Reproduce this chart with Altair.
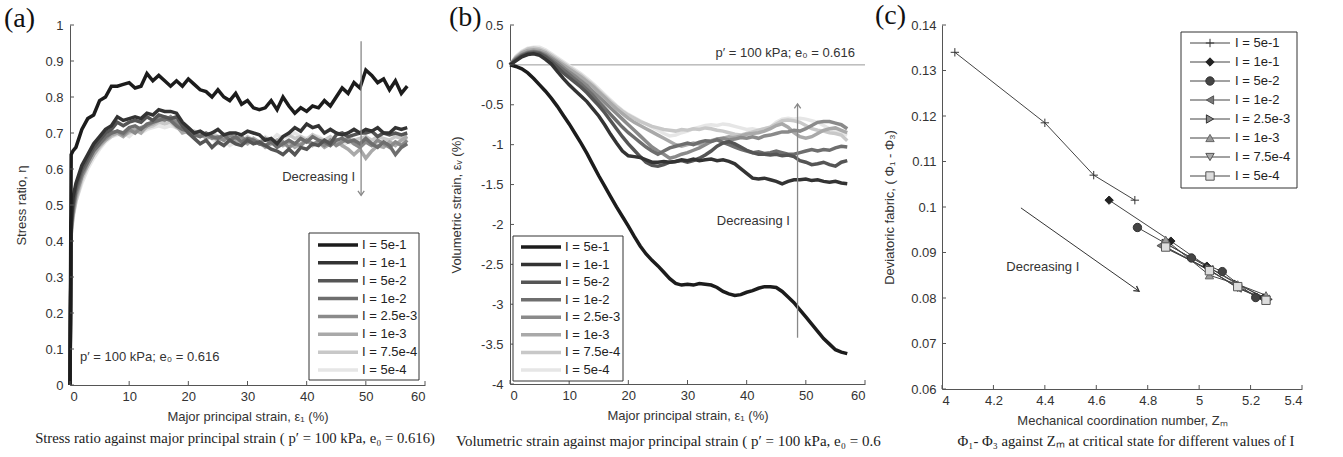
import altair as alt
import pandas as pd

SANS = "Liberation Sans"
SERIF = "Liberation Serif"

# ---------------- shared series ----------------
SERIES = ["5e-1", "1e-1", "5e-2", "1e-2", "2.5e-3", "1e-3", "7.5e-4", "5e-4"]
LEGEND_LABELS = ["I = " + s for s in SERIES]
GRAYS = ["#1c1c1c", "#333333", "#555555", "#6e6e6e", "#8a8a8a", "#a9a9a9", "#c8c8c8", "#e6e6e6"]

# tick values
TICKS_STRAIN = [0, 10, 20, 30, 40, 50, 60]
TICKS_ETA = [0, 0.1, 0.2, 0.3, 0.4, 0.5, 0.6, 0.7, 0.8, 0.9, 1]
TICKS_EV = [-4, -3.5, -3, -2.5, -2, -1.5, -1, -0.5, 0, 0.5]
TICKS_ZM = [4, 4.2, 4.4, 4.6, 4.8, 5, 5.2, 5.4]
TICKS_FAB = [0.06, 0.07, 0.08, 0.09, 0.1, 0.11, 0.12, 0.13, 0.14]

# ---------------- panel (a): stress ratio ----------------
STRAIN_A = [0, 0.2, 0.5] + list(range(1, 58))
ETA_5E1 = [0.0, 0.64, 0.65, 0.66, 0.71, 0.74, 0.75, 0.79, 0.80, 0.83, 0.83, 0.835, 0.84, 0.825, 0.83, 0.865, 0.845, 0.86, 0.845, 0.83, 0.845, 0.83, 0.85, 0.835, 0.82, 0.815, 0.80, 0.82, 0.80, 0.79, 0.81, 0.78, 0.79, 0.77, 0.765, 0.77, 0.79, 0.765, 0.80, 0.775, 0.755, 0.77, 0.76, 0.775, 0.77, 0.79, 0.775, 0.80, 0.825, 0.81, 0.84, 0.825, 0.875, 0.86, 0.84, 0.85, 0.82, 0.845, 0.81, 0.83]
ETA_1E1 = [0.0, 0.45, 0.52, 0.56, 0.61, 0.64, 0.67, 0.69, 0.71, 0.72, 0.745, 0.735, 0.74, 0.745, 0.74, 0.755, 0.75, 0.765, 0.76, 0.76, 0.755, 0.73, 0.715, 0.70, 0.705, 0.695, 0.70, 0.71, 0.695, 0.70, 0.70, 0.695, 0.705, 0.70, 0.695, 0.68, 0.685, 0.67, 0.69, 0.70, 0.715, 0.705, 0.725, 0.715, 0.72, 0.70, 0.71, 0.70, 0.695, 0.70, 0.71, 0.70, 0.71, 0.705, 0.715, 0.70, 0.70, 0.715, 0.71, 0.715]
ETA_5E2 = [0.0, 0.44, 0.50, 0.55, 0.60, 0.63, 0.66, 0.68, 0.70, 0.71, 0.73, 0.72, 0.73, 0.735, 0.73, 0.745, 0.735, 0.75, 0.745, 0.74, 0.745, 0.72, 0.70, 0.685, 0.67, 0.68, 0.66, 0.675, 0.665, 0.68, 0.67, 0.665, 0.68, 0.67, 0.675, 0.665, 0.655, 0.65, 0.64, 0.655, 0.64, 0.66, 0.655, 0.67, 0.665, 0.68, 0.67, 0.695, 0.70, 0.69, 0.695, 0.70, 0.70, 0.705, 0.69, 0.70, 0.695, 0.70, 0.695, 0.70]
ETA_1E2 = [0.0, 0.43, 0.49, 0.54, 0.59, 0.62, 0.65, 0.67, 0.69, 0.70, 0.705, 0.70, 0.715, 0.72, 0.71, 0.725, 0.73, 0.735, 0.74, 0.735, 0.72, 0.71, 0.705, 0.695, 0.69, 0.70, 0.69, 0.685, 0.695, 0.68, 0.69, 0.675, 0.685, 0.68, 0.67, 0.665, 0.675, 0.66, 0.67, 0.68, 0.67, 0.685, 0.675, 0.69, 0.68, 0.675, 0.665, 0.68, 0.685, 0.675, 0.68, 0.67, 0.685, 0.67, 0.66, 0.675, 0.665, 0.64, 0.66, 0.67]
ETA_25E3 = [0.0, 0.43, 0.48, 0.53, 0.58, 0.62, 0.65, 0.67, 0.685, 0.70, 0.705, 0.695, 0.71, 0.70, 0.715, 0.72, 0.73, 0.74, 0.735, 0.745, 0.73, 0.72, 0.71, 0.70, 0.69, 0.695, 0.685, 0.69, 0.68, 0.695, 0.685, 0.69, 0.675, 0.68, 0.67, 0.685, 0.675, 0.665, 0.675, 0.66, 0.67, 0.665, 0.68, 0.67, 0.675, 0.665, 0.68, 0.665, 0.675, 0.685, 0.67, 0.66, 0.675, 0.665, 0.68, 0.67, 0.66, 0.675, 0.665, 0.68]
ETA_1E3 = [0.0, 0.42, 0.47, 0.52, 0.58, 0.61, 0.64, 0.665, 0.68, 0.695, 0.70, 0.69, 0.705, 0.71, 0.70, 0.72, 0.725, 0.735, 0.745, 0.74, 0.72, 0.70, 0.705, 0.69, 0.70, 0.685, 0.69, 0.68, 0.685, 0.69, 0.675, 0.68, 0.67, 0.685, 0.675, 0.66, 0.67, 0.68, 0.665, 0.675, 0.66, 0.67, 0.68, 0.665, 0.675, 0.66, 0.67, 0.68, 0.665, 0.655, 0.64, 0.655, 0.63, 0.65, 0.665, 0.66, 0.675, 0.665, 0.68, 0.69]
ETA_75E4 = [0.0, 0.42, 0.47, 0.51, 0.57, 0.61, 0.64, 0.66, 0.68, 0.69, 0.70, 0.695, 0.70, 0.71, 0.705, 0.715, 0.72, 0.73, 0.725, 0.73, 0.715, 0.71, 0.70, 0.705, 0.695, 0.69, 0.70, 0.69, 0.68, 0.69, 0.685, 0.675, 0.69, 0.68, 0.675, 0.685, 0.67, 0.68, 0.69, 0.695, 0.685, 0.69, 0.68, 0.695, 0.685, 0.68, 0.69, 0.675, 0.685, 0.69, 0.68, 0.685, 0.69, 0.68, 0.69, 0.685, 0.68, 0.69, 0.685, 0.69]
ETA_5E4 = [0.0, 0.41, 0.46, 0.51, 0.56, 0.60, 0.63, 0.655, 0.675, 0.69, 0.695, 0.70, 0.69, 0.705, 0.70, 0.71, 0.715, 0.72, 0.715, 0.72, 0.715, 0.705, 0.70, 0.695, 0.70, 0.69, 0.685, 0.67, 0.68, 0.665, 0.675, 0.67, 0.68, 0.685, 0.675, 0.69, 0.68, 0.695, 0.685, 0.69, 0.70, 0.69, 0.685, 0.695, 0.69, 0.68, 0.67, 0.68, 0.665, 0.675, 0.67, 0.68, 0.675, 0.665, 0.67, 0.68, 0.675, 0.67, 0.68, 0.685]
ETA = [ETA_5E1, ETA_1E1, ETA_5E2, ETA_1E2, ETA_25E3, ETA_1E3, ETA_75E4, ETA_5E4]

# ---------------- panel (b): volumetric strain ----------------
STRAIN_B = list(range(0, 58))
EV_5E1 = [0, -0.02, -0.05, -0.10, -0.17, -0.25, -0.33, -0.42, -0.52, -0.63, -0.74, -0.86, -0.98, -1.11, -1.25, -1.39, -1.52, -1.65, -1.78, -1.90, -2.02, -2.15, -2.27, -2.37, -2.45, -2.52, -2.60, -2.68, -2.74, -2.76, -2.75, -2.76, -2.74, -2.75, -2.76, -2.79, -2.84, -2.87, -2.89, -2.88, -2.85, -2.83, -2.80, -2.78, -2.78, -2.79, -2.84, -2.91, -2.98, -3.07, -3.16, -3.25, -3.34, -3.43, -3.50, -3.57, -3.60, -3.62]
EV_1E1 = [0, 0.05, 0.10, 0.13, 0.14, 0.12, 0.07, 0.01, -0.08, -0.17, -0.25, -0.32, -0.39, -0.46, -0.55, -0.64, -0.75, -0.87, -0.98, -1.08, -1.14, -1.15, -1.16, -1.19, -1.22, -1.22, -1.21, -1.22, -1.21, -1.19, -1.20, -1.18, -1.20, -1.19, -1.18, -1.20, -1.19, -1.21, -1.24, -1.30, -1.36, -1.42, -1.43, -1.42, -1.44, -1.46, -1.49, -1.46, -1.44, -1.44, -1.43, -1.45, -1.44, -1.46, -1.47, -1.46, -1.48, -1.49]
EV_5E2 = [0, 0.06, 0.11, 0.14, 0.15, 0.14, 0.10, 0.04, -0.03, -0.10, -0.16, -0.22, -0.28, -0.35, -0.43, -0.51, -0.60, -0.70, -0.80, -0.90, -0.99, -1.07, -1.15, -1.22, -1.26, -1.27, -1.25, -1.22, -1.21, -1.20, -1.22, -1.20, -1.17, -1.13, -1.08, -1.02, -0.98, -0.96, -0.99, -1.03, -1.07, -1.10, -1.12, -1.12, -1.13, -1.12, -1.14, -1.13, -1.15, -1.20, -1.22, -1.25, -1.24, -1.22, -1.25, -1.27, -1.22, -1.20]
EV_1E2 = [0, 0.07, 0.12, 0.15, 0.16, 0.15, 0.11, 0.06, 0.00, -0.06, -0.12, -0.18, -0.24, -0.31, -0.38, -0.46, -0.54, -0.62, -0.70, -0.78, -0.85, -0.91, -0.97, -1.03, -1.08, -1.12, -1.08, -1.04, -1.02, -1.00, -0.98, -1.00, -0.97, -0.95, -0.96, -0.94, -0.97, -1.00, -1.03, -1.06, -1.08, -1.10, -1.09, -1.11, -1.10, -1.08, -1.10, -1.12, -1.12, -1.10, -1.08, -1.06, -1.08, -1.06, -1.07, -1.04, -1.02, -1.03]
EV_25E3 = [0, 0.08, 0.13, 0.16, 0.17, 0.16, 0.13, 0.08, 0.03, -0.03, -0.09, -0.14, -0.20, -0.26, -0.33, -0.40, -0.47, -0.54, -0.61, -0.68, -0.75, -0.82, -0.89, -0.96, -1.03, -1.08, -1.12, -1.17, -1.15, -1.12, -1.10, -1.07, -1.04, -1.00, -0.96, -0.93, -0.92, -0.94, -0.93, -0.91, -0.92, -0.90, -0.92, -0.89, -0.88, -0.86, -0.84, -0.84, -0.82, -0.83, -0.80, -0.76, -0.72, -0.71, -0.71, -0.73, -0.75, -0.80]
EV_1E3 = [0, 0.09, 0.15, 0.18, 0.19, 0.18, 0.15, 0.10, 0.05, 0.00, -0.05, -0.10, -0.15, -0.21, -0.27, -0.34, -0.41, -0.48, -0.55, -0.61, -0.67, -0.72, -0.76, -0.80, -0.84, -0.88, -0.92, -0.96, -1.00, -1.02, -1.00, -0.98, -0.99, -0.96, -0.95, -0.93, -0.92, -0.90, -0.91, -0.89, -0.87, -0.86, -0.85, -0.83, -0.80, -0.76, -0.74, -0.78, -0.85, -0.90, -0.92, -0.90, -0.86, -0.82, -0.80, -0.79, -0.82, -0.85]
EV_75E4 = [0, 0.10, 0.16, 0.20, 0.21, 0.20, 0.17, 0.12, 0.07, 0.02, -0.03, -0.08, -0.13, -0.19, -0.25, -0.32, -0.39, -0.46, -0.52, -0.58, -0.63, -0.67, -0.71, -0.74, -0.77, -0.79, -0.81, -0.82, -0.83, -0.81, -0.82, -0.80, -0.81, -0.79, -0.80, -0.82, -0.83, -0.85, -0.87, -0.88, -0.86, -0.84, -0.82, -0.80, -0.78, -0.74, -0.70, -0.69, -0.70, -0.72, -0.76, -0.80, -0.82, -0.83, -0.85, -0.86, -0.88, -0.95]
EV_5E4 = [0, 0.11, 0.17, 0.21, 0.22, 0.22, 0.19, 0.14, 0.09, 0.04, -0.01, -0.06, -0.11, -0.17, -0.23, -0.30, -0.37, -0.44, -0.51, -0.57, -0.62, -0.66, -0.70, -0.74, -0.78, -0.82, -0.86, -0.89, -0.88, -0.85, -0.83, -0.80, -0.78, -0.76, -0.75, -0.76, -0.74, -0.75, -0.77, -0.79, -0.81, -0.80, -0.82, -0.80, -0.78, -0.72, -0.68, -0.67, -0.68, -0.67, -0.68, -0.70, -0.72, -0.76, -0.80, -0.83, -0.85, -0.88]
EV = [EV_5E1, EV_1E1, EV_5E2, EV_1E2, EV_25E3, EV_1E3, EV_75E4, EV_5E4]

# ---------------- panel (c): fabric vs coordination number ----------------
ZM = [
    [4.05, 4.40, 4.59, 4.75],
    [4.65, 4.89, 5.03, 5.25],
    [4.76, 4.97, 5.09, 5.22],
    [4.85, 5.04, 5.15, 5.26],
    [4.87, 5.04, 5.15, 5.27],
    [4.87, 5.04, 5.15, 5.26],
    [4.87, 5.04, 5.15, 5.26],
    [4.87, 5.04, 5.15, 5.26],
]
FAB = [
    [0.134, 0.1185, 0.107, 0.1015],
    [0.1015, 0.0925, 0.0870, 0.0800],
    [0.0955, 0.0888, 0.0858, 0.0801],
    [0.0915, 0.0862, 0.0822, 0.0797],
    [0.0920, 0.0866, 0.0830, 0.0797],
    [0.0928, 0.0850, 0.0830, 0.0806],
    [0.0912, 0.0862, 0.0822, 0.0795],
    [0.0912, 0.0860, 0.0825, 0.0795],
]
SHAPES = ["M-1,0L1,0M0,-1L0,1", "diamond", "circle", "triangle-left",
          "triangle-right", "triangle-up", "triangle-down", "square"]
FILLS = ["transparent", "#222222", "#444444", "#777777", "#888888", "#999999", "#aaaaaa", "#dddddd"]
STROKES = ["#333333", "#222222", "#333333", "#555555", "#333333", "#666666", "#555555", "#555555"]


def long_frame(xs, series_lists, xname, yname, reverse=False):
    rows = []
    pairs = list(zip(SERIES, series_lists))
    if reverse:
        pairs = pairs[::-1]
    for name, ys in pairs:
        assert len(ys) == len(xs), (name, len(ys), len(xs))
        for x, y in zip(xs, ys):
            rows.append({"series": name, xname: x, yname: y})
    return pd.DataFrame(rows)


df_a = long_frame(STRAIN_A, ETA, "strain", "eta", reverse=True)
df_b = long_frame(STRAIN_B, EV, "strain", "ev", reverse=True)
rows_c = []
for name, zs, fs in zip(SERIES, ZM, FAB):
    for k, (z, f) in enumerate(zip(zs, fs)):
        rows_c.append({"series": name, "zm": z, "fab": f, "k": k})
df_c = pd.DataFrame(rows_c)

legend_df = pd.DataFrame({"series": SERIES, "label": LEGEND_LABELS, "row": list(range(len(SERIES)))})

gray_scale = alt.Scale(domain=SERIES, range=GRAYS)
shape_scale = alt.Scale(domain=SERIES, range=SHAPES)
fill_scale = alt.Scale(domain=SERIES, range=FILLS)
stroke_scale = alt.Scale(domain=SERIES, range=STROKES)
TICK_COLOR = "#555555"
TICK_LEN = 4


def one(**kw):
    return pd.DataFrame({k: [v] for k, v in kw.items()})


def text_at(t, x, y, font=SANS, size=13, align="left", color="#222"):
    return alt.Chart(one(t=t)).mark_text(
        font=font, fontSize=size, align=align, baseline="middle", color=color
    ).encode(x=alt.value(x), y=alt.value(y), text="t:N")


def inward_xticks(values, field, h):
    return alt.Chart(pd.DataFrame({field: values})).mark_rule(color=TICK_COLOR, strokeWidth=1).encode(
        x=f"{field}:Q", y=alt.value(h), y2=alt.value(h - TICK_LEN))


def inward_yticks(values, field, x0=0):
    return alt.Chart(pd.DataFrame({field: values})).mark_rule(color=TICK_COLOR, strokeWidth=1).encode(
        y=f"{field}:Q", x=alt.value(x0), x2=alt.value(x0 + TICK_LEN))


def line_legend(x0, x1, y0, y1, r0, r1, lx0, lx1, tx):
    box = alt.Chart(one(k=0)).mark_rect(fill="white", stroke="#333333", strokeWidth=1).encode(
        x=alt.value(x0), x2=alt.value(x1), y=alt.value(y0), y2=alt.value(y1))
    yscale = alt.Scale(domain=[0, 7], range=[r0, r1], nice=False, zero=False)
    lines = alt.Chart(legend_df).mark_rule(strokeWidth=3.5).encode(
        x=alt.value(lx0), x2=alt.value(lx1),
        y=alt.Y("row:Q", scale=yscale, axis=None),
        color=alt.Color("series:N", scale=gray_scale, legend=None))
    labels = alt.Chart(legend_df).mark_text(font=SANS, fontSize=13, align="left", baseline="middle", color="#222").encode(
        x=alt.value(tx), y=alt.Y("row:Q", scale=yscale, axis=None), text="label:N")
    return alt.layer(box, lines, labels)


CAPTION_SIZE = 14.7

# ---------------- panel (a) ----------------
W_A, H_A = 355, 360
xa = alt.X("strain:Q", scale=alt.Scale(domain=[0, 60], nice=False),
           axis=alt.Axis(values=TICKS_STRAIN, tickCount=30, title="Major principal strain, ε₁ (%)",
                         labelExpr="'' + datum.value"))
ya = alt.Y("eta:Q", scale=alt.Scale(domain=[0, 1], nice=False),
           axis=alt.Axis(values=TICKS_ETA, tickCount=30, labelPadding=7,
                         title="Stress ratio, η", labelExpr="'' + datum.value", titlePadding=16))
lines_a = alt.Chart(df_a).mark_line(strokeWidth=3.5).encode(
    x=xa, y=ya, color=alt.Color("series:N", scale=gray_scale, legend=None))
arrow_a_df = one(strain=49.2, eta=0.955, eta2=0.527)
arrow_a = alt.Chart(arrow_a_df).mark_rule(color="#888888", strokeWidth=1.3).encode(
    x="strain:Q", y="eta:Q", y2="eta2:Q")
head_a = alt.Chart(arrow_a_df).mark_point(shape="M-1,-1.4L0,0L1,-1.4", size=40, filled=False,
                                          color="#888888", strokeWidth=1.3, opacity=1).encode(
    x="strain:Q", y="eta2:Q")
dec_a = alt.Chart(one(strain=48.2, eta=0.578, t="Decreasing  I")).mark_text(
    font=SANS, fontSize=13, align="right", baseline="middle", color="#333").encode(
    x="strain:Q", y="eta:Q", text="t:N")
cond_a = alt.Chart(one(strain=1.7, eta=0.078, t="p′ = 100 kPa; e₀ = 0.616")).mark_text(
    font=SANS, fontSize=13, align="left", baseline="middle", color="#333").encode(
    x="strain:Q", y="eta:Q", text="t:N")
data_a = alt.layer(
    lines_a, inward_xticks(TICKS_STRAIN, "strain", H_A), inward_yticks(TICKS_ETA, "eta"),
    arrow_a, head_a, dec_a, cond_a,
    text_at("(a)", -66, -6, font=SERIF, size=28, color="#111"),
    text_at("Stress ratio against major principal strain ( p′ = 100 kPa, e₀ = 0.616)", 165, 414,
            font=SERIF, size=CAPTION_SIZE, align="center"),
)
panel_a = alt.layer(
    data_a, line_legend(239, 349, 208, 355, 220, 345, 248, 288, 292)
).resolve_scale(y="independent").properties(width=W_A, height=H_A)

# ---------------- panel (b) ----------------
# group starts 4 px left of the plot's left edge (uniform concat spacing)
W_B, H_B = 355, 359
OFF_B = 4
xb = alt.X("strain:Q", scale=alt.Scale(domain=[0, 60], nice=False, range=[OFF_B, W_B + OFF_B]),
           axis=alt.Axis(values=TICKS_STRAIN, tickCount=30, title="Major principal strain, ε₁ (%)",
                         labelExpr="'' + datum.value"))
yb = alt.Y("ev:Q", scale=alt.Scale(domain=[-4, 0.5], nice=False),
           axis=alt.Axis(values=TICKS_EV, tickCount=30, offset=-OFF_B, labelPadding=7,
                         title="Volumetric strain, εᵥ (%)", labelExpr="'' + datum.value", titlePadding=17))
zero_b = alt.Chart(one(strain=0, strain2=60, ev=0)).mark_rule(color="#999999", strokeWidth=1).encode(
    x=xb, x2="strain2:Q", y="ev:Q")
lines_b = alt.Chart(df_b).mark_line(strokeWidth=3.5).encode(
    x="strain:Q", y=yb, color=alt.Color("series:N", scale=gray_scale, legend=None))
arrow_b_df = one(strain=48.6, ev=-3.42, ev2=-0.49)
arrow_b = alt.Chart(arrow_b_df).mark_rule(color="#888888", strokeWidth=1.3).encode(
    x="strain:Q", y="ev:Q", y2="ev2:Q")
head_b = alt.Chart(arrow_b_df).mark_point(shape="M-1,1.4L0,0L1,1.4", size=40, filled=False,
                                          color="#888888", strokeWidth=1.3, opacity=1).encode(
    x="strain:Q", y="ev2:Q")
dec_b = alt.Chart(one(strain=47.3, ev=-1.96, t="Decreasing  I")).mark_text(
    font=SANS, fontSize=13, align="right", baseline="middle", color="#333").encode(
    x="strain:Q", y="ev:Q", text="t:N")
cond_b = alt.Chart(one(strain=58.3, ev=0.15, t="p′ = 100 kPa; e₀ = 0.616")).mark_text(
    font=SANS, fontSize=13, align="right", baseline="middle", color="#333").encode(
    x="strain:Q", y="ev:Q", text="t:N")
data_b = alt.layer(
    zero_b, lines_b, inward_xticks(TICKS_STRAIN, "strain", H_B), inward_yticks(TICKS_EV, "ev", OFF_B),
    arrow_b, head_b, dec_b, cond_b,
    text_at("(b)", -57, -7, font=SERIF, size=28, color="#111"),
    text_at("Volumetric strain against major principal strain ( p′ = 100 kPa, e₀ = 0.6", -50, 416,
            font=SERIF, size=15, align="left"),
)
panel_b = alt.layer(
    data_b, line_legend(7, 117, 211, 356, 222, 345, 15, 55, 59)
).resolve_scale(y="independent").properties(width=W_B, height=H_B)

# ---------------- panel (c) ----------------
W_C, H_C = 360, 364
xc = alt.X("zm:Q", scale=alt.Scale(domain=[4, 5.4], nice=False, zero=False),
           axis=alt.Axis(values=TICKS_ZM, tickCount=30,
                         title="Mechanical coordination number, Zₘ", labelExpr="'' + datum.value"))
yc = alt.Y("fab:Q", scale=alt.Scale(domain=[0.06, 0.14], nice=False, zero=False),
           axis=alt.Axis(values=TICKS_FAB, tickCount=30, labelPadding=6,
                         title="Deviatoric fabric, ( Φ₁ - Φ₃)", labelExpr="'' + datum.value", titlePadding=14))
lines_c = alt.Chart(df_c).mark_line(color="#444444", strokeWidth=1).encode(
    x=xc, y=yc, detail="series:N", order="k:Q")
points_c = alt.Chart(df_c).mark_point(size=70, opacity=1, strokeWidth=1).encode(
    x="zm:Q", y="fab:Q",
    shape=alt.Shape("series:N", scale=shape_scale, legend=None),
    fill=alt.Fill("series:N", scale=fill_scale, legend=None),
    stroke=alt.Stroke("series:N", scale=stroke_scale, legend=None))
arrow_c_df = one(zm=4.307, fab=0.0998, zm2=4.766, fab2=0.0815)
arrow_c = alt.Chart(arrow_c_df).mark_rule(color="#333333", strokeWidth=1).encode(
    x="zm:Q", y="fab:Q", x2="zm2:Q", y2="fab2:Q")
head_c = alt.Chart(arrow_c_df).mark_point(shape="M-1.4,-0.8L0,0L-1.4,0.8", angle=35, size=50, filled=False,
                                          color="#333333", strokeWidth=1.4, opacity=1).encode(
    x="zm2:Q", y="fab2:Q")
dec_c = alt.Chart(one(zm=4.25, fab=0.0868, t="Decreasing I")).mark_text(
    font=SANS, fontSize=13, align="left", baseline="middle", color="#333").encode(
    x="zm:Q", y="fab:Q", text="t:N")
data_c = alt.layer(
    lines_c, inward_xticks(TICKS_ZM, "zm", H_C), inward_yticks(TICKS_FAB, "fab"),
    points_c, arrow_c, head_c, dec_c,
    text_at("(c)", -67, -9, font=SERIF, size=28, color="#111"),
    text_at("Φ₁- Φ₃ against Zₘ at critical state for different values of I", 184, 417,
            font=SERIF, size=CAPTION_SIZE, align="center"),
)
yscale_c = alt.Scale(domain=[0, 7], range=[18, 151], nice=False, zero=False)
box_c = alt.Chart(one(k=0)).mark_rect(fill="white", stroke="#333333", strokeWidth=1).encode(
    x=alt.value(239), x2=alt.value(355), y=alt.value(7), y2=alt.value(163))
leg_lines_c = alt.Chart(legend_df).mark_rule(color="#444444", strokeWidth=1).encode(
    x=alt.value(248), x2=alt.value(288), y=alt.Y("row:Q", scale=yscale_c, axis=None))
leg_pts_c = alt.Chart(legend_df).mark_point(size=70, opacity=1, strokeWidth=1).encode(
    x=alt.value(268), y=alt.Y("row:Q", scale=yscale_c, axis=None),
    shape=alt.Shape("series:N", scale=shape_scale, legend=None),
    fill=alt.Fill("series:N", scale=fill_scale, legend=None),
    stroke=alt.Stroke("series:N", scale=stroke_scale, legend=None))
leg_txt_c = alt.Chart(legend_df).mark_text(font=SANS, fontSize=13, align="left", baseline="middle", color="#222").encode(
    x=alt.value(293), y=alt.Y("row:Q", scale=yscale_c, axis=None), text="label:N")
panel_c = alt.layer(
    data_c, alt.layer(box_c, leg_lines_c, leg_pts_c, leg_txt_c)
).resolve_scale(y="independent").properties(width=W_C, height=H_C)

chart = alt.hconcat(panel_a, panel_b, panel_c, spacing=81, bounds="flush").properties(
    padding={"left": 4, "top": 2, "right": 0, "bottom": 0}
).configure_view(stroke=None).configure_axis(
    labelFont=SANS, titleFont=SANS, labelFontSize=13, titleFontSize=13,
    titleFontWeight="normal", labelColor="#333333", titleColor="#333333",
    domainColor="#555555", tickColor="#555555", grid=False, ticks=False, tickSize=0,
    labelPadding=5, titlePadding=7, labelOverlap=False,
)

chart.save("out.html", embed_options={"renderer": "svg", "actions": False})
